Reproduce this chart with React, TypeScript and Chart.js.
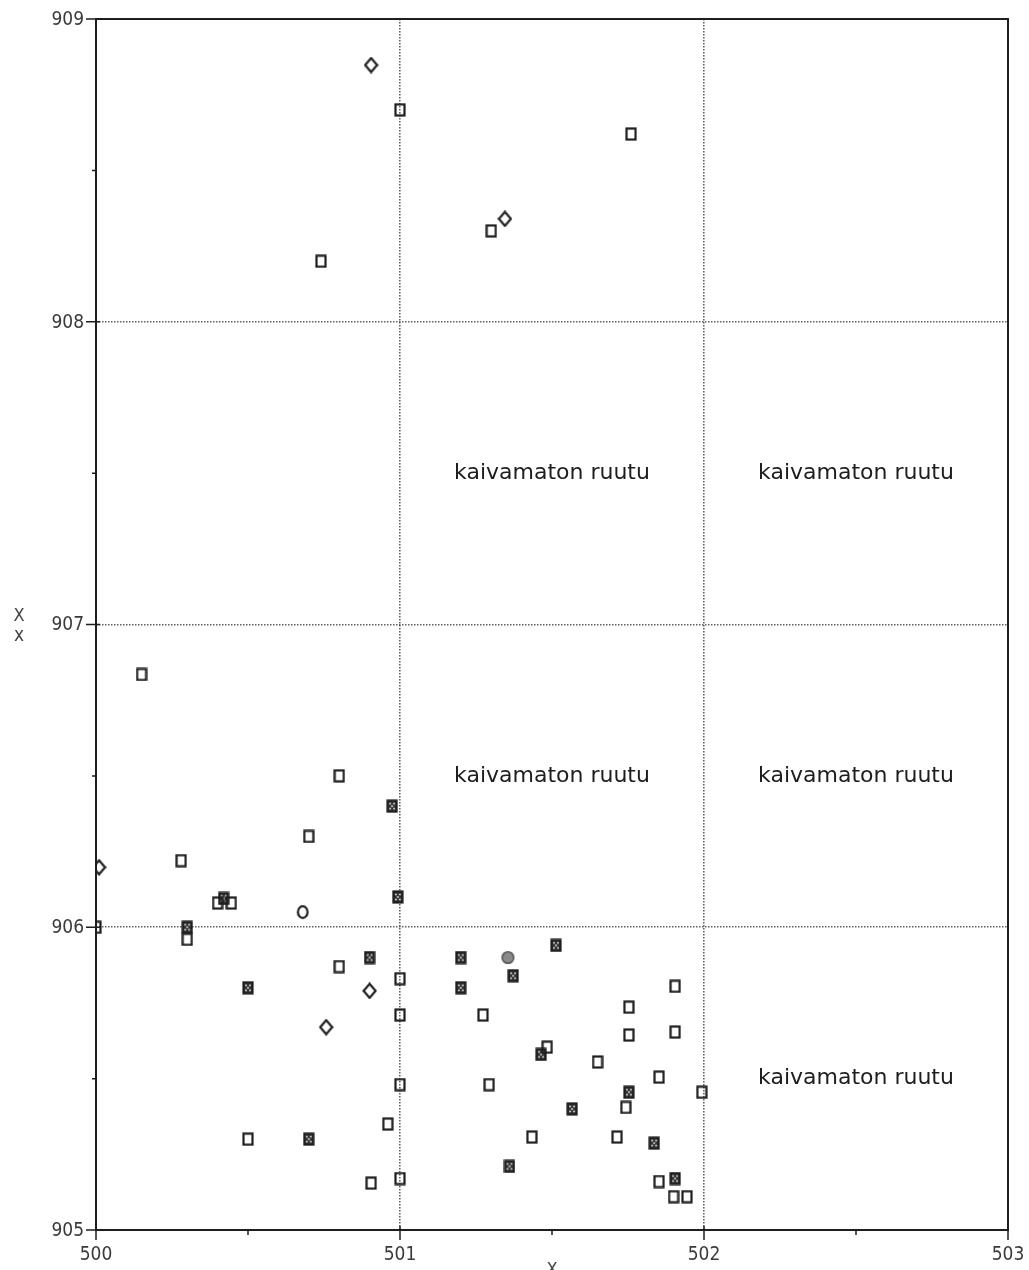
import React, { useEffect, useRef } from "react";
import { Chart, registerables } from "chart.js";

Chart.register(...registerables);

const W = 1029;
const H = 1270;

const xTicks = [500, 501, 502, 503];
const yTicks = [905, 906, 907, 908, 909];
const xGridValues = [501, 502];
const yGridValues = [906, 907, 908];

const openSquareX = [501.0, 501.76, 501.3, 500.74, 500.15, 500.8, 500.7, 500.28, 500.4, 500.445, 500.3, 500.0, 500.8, 501.0, 501.0, 501.905, 501.753, 501.273, 501.753, 501.905, 501.484, 501.65, 501.293, 501.852, 501.993, 501.743, 501.434, 501.714, 501.0, 500.96, 500.5, 500.905, 501.0, 501.852, 501.9, 501.944];
const openSquareY = [908.7, 908.62, 908.3, 908.2, 906.835, 906.5, 906.3, 906.22, 906.08, 906.08, 905.96, 906.0, 905.87, 905.83, 905.71, 905.805, 905.736, 905.71, 905.644, 905.654, 905.604, 905.555, 905.48, 905.505, 905.455, 905.405, 905.307, 905.307, 905.48, 905.35, 905.3, 905.155, 905.17, 905.16, 905.11, 905.11];

const crossedX = [500.42, 500.3, 500.974, 500.993, 500.9, 500.5, 501.2, 501.513, 501.372, 501.2, 501.464, 501.753, 501.566, 501.836, 501.36, 500.7, 501.905];
const crossedY = [906.095, 906.0, 906.4, 906.1, 905.9, 905.8, 905.9, 905.94, 905.84, 905.8, 905.58, 905.455, 905.4, 905.287, 905.21, 905.3, 905.17];

const diamondX = [500.905, 501.345, 500.01, 500.9, 500.757];
const diamondY = [908.848, 908.34, 906.198, 905.79, 905.67];

const ringX = [500.68];
const ringY = [906.05];

const dotX = [501.355];
const dotY = [905.9];

const noteX = [501.5, 502.5, 501.5, 502.5, 502.5];
const noteY = [907.5, 907.5, 906.5, 906.5, 905.5];
const noteText = ["kaivamaton ruutu", "kaivamaton ruutu", "kaivamaton ruutu", "kaivamaton ruutu", "kaivamaton ruutu"];

const yTitle = ["X", "x"];
const xTitle = "X";

const INK = "#1e1e1e";
const FONT = "'DejaVu Sans Condensed', 'DejaVu Sans', sans-serif";
const NOTE_FONT = "'DejaVu Sans', sans-serif";

function pts(xs: number[], ys: number[]) {
  return xs.map((x, i) => ({ x, y: ys[i] }));
}

function makeCanvas(w: number, h: number, draw: (c: CanvasRenderingContext2D) => void) {
  const cv = document.createElement("canvas");
  cv.width = w;
  cv.height = h;
  const c = cv.getContext("2d")!;
  draw(c);
  return cv;
}

export default function App() {
  const ref = useRef<HTMLCanvasElement | null>(null);

  useEffect(() => {
    const openSq = makeCanvas(12, 14, (c) => {
      c.strokeStyle = INK;
      c.lineWidth = 2.2;
      c.strokeRect(1.5, 1.5, 9, 11);
    });
    const crossSq = makeCanvas(12, 14, (c) => {
      c.fillStyle = "#333";
      c.fillRect(1, 1, 10, 12);
      c.strokeStyle = INK;
      c.lineWidth = 2.2;
      c.strokeRect(1.5, 1.5, 9, 11);
      c.fillStyle = "#eeeeee";
      const d = [[4, 4.5], [8, 4.5], [6, 7], [4, 9.5], [8, 9.5]];
      d.forEach(([x, y]) => c.fillRect(x - 0.8, y - 0.8, 1.6, 1.6));
    });
    const diamond = makeCanvas(15, 17, (c) => {
      c.strokeStyle = INK;
      c.lineWidth = 2.2;
      c.beginPath();
      c.moveTo(7.5, 1.5);
      c.lineTo(13.5, 8.5);
      c.lineTo(7.5, 15.5);
      c.lineTo(1.5, 8.5);
      c.closePath();
      c.stroke();
    });
    const ring = makeCanvas(14, 16, (c) => {
      c.strokeStyle = INK;
      c.lineWidth = 2.2;
      c.beginPath();
      c.ellipse(7, 8, 4.8, 5.8, 0, 0, Math.PI * 2);
      c.stroke();
    });
    const dot = makeCanvas(15, 15, (c) => {
      c.fillStyle = "#8a8a8a";
      c.strokeStyle = "#555";
      c.lineWidth = 1.5;
      c.beginPath();
      c.arc(7.5, 7.5, 5.8, 0, Math.PI * 2);
      c.fill();
      c.stroke();
    });

    const decor = {
      id: "decor",
      afterDraw(chart: any) {
        const ctx = chart.ctx as CanvasRenderingContext2D;
        const a = chart.chartArea;
        const xs = chart.scales.x;
        const ys = chart.scales.y;
        ctx.save();
        // frame
        ctx.strokeStyle = INK;
        ctx.lineWidth = 2;
        ctx.strokeRect(a.left, a.top, a.right - a.left, a.bottom - a.top);
        // ticks
        ctx.lineWidth = 1.5;
        ctx.beginPath();
        for (let v = yTicks[0]; v <= yTicks[yTicks.length - 1] + 1e-9; v += 0.5) {
          const py = ys.getPixelForValue(v);
          const major = Math.abs(v - Math.round(v)) < 1e-6;
          ctx.moveTo(a.left - (major ? 10 : 4), py);
          ctx.lineTo(a.left + (major ? 4 : 0), py);
        }
        for (let v = xTicks[0]; v <= xTicks[xTicks.length - 1] + 1e-9; v += 0.5) {
          const px = xs.getPixelForValue(v);
          const major = Math.abs(v - Math.round(v)) < 1e-6;
          ctx.moveTo(px, a.bottom + (major ? 10 : 5));
          ctx.lineTo(px, a.bottom - (major ? 4 : 0));
        }
        ctx.stroke();
        // tick labels
        ctx.fillStyle = "#3a3a3a";
        ctx.font = `19px ${FONT}`;
        ctx.textAlign = "right";
        ctx.textBaseline = "middle";
        yTicks.forEach((v) => ctx.fillText(String(v), a.left - 12, ys.getPixelForValue(v) + 1));
        ctx.textAlign = "center";
        ctx.textBaseline = "top";
        xTicks.forEach((v) => ctx.fillText(String(v), xs.getPixelForValue(v), a.bottom + 16));
        // notes
        ctx.fillStyle = "#1e1e1e";
        ctx.font = `22px ${NOTE_FONT}`;
        ctx.textAlign = "center";
        ctx.textBaseline = "middle";
        noteText.forEach((t, i) => {
          ctx.fillText(t, xs.getPixelForValue(noteX[i]), ys.getPixelForValue(noteY[i]));
        });
        // axis titles
        ctx.fillStyle = "#444";
        ctx.font = `18px ${FONT}`;
        ctx.fillText(yTitle[0], 19, 616);
        ctx.font = `19px ${FONT}`;
        ctx.fillText(yTitle[1], 19, 636);
        ctx.font = `18px ${FONT}`;
        ctx.textBaseline = "top";
        ctx.fillText(xTitle, (a.left + a.right) / 2, 1261);
        ctx.restore();
      },
    };

    const gridColor = (vals: number[]) => (c: any) =>
      c.tick && vals.some((v) => Math.abs(v - c.tick.value) < 1e-6) ? "rgba(70,70,70,0.85)" : "rgba(0,0,0,0)";

    const chart = new Chart(ref.current!, {
      type: "scatter",
      data: {
        datasets: [
          { data: pts(openSquareX, openSquareY), pointStyle: openSq as any, pointRadius: 6 },
          { data: pts(crossedX, crossedY), pointStyle: crossSq as any, pointRadius: 6 },
          { data: pts(diamondX, diamondY), pointStyle: diamond as any, pointRadius: 7 },
          { data: pts(ringX, ringY), pointStyle: ring as any, pointRadius: 7 },
          { data: pts(dotX, dotY), pointStyle: dot as any, pointRadius: 7 },
        ],
      },
      plugins: [decor],
      options: {
        animation: false,
        responsive: false,
        devicePixelRatio: 1,
        events: [],
        layout: { autoPadding: false, padding: { top: 19, right: 21, left: 0, bottom: 0 } },
        plugins: { legend: { display: false }, tooltip: { enabled: false } },
        scales: {
          x: {
            type: "linear",
            min: xTicks[0],
            max: xTicks[xTicks.length - 1],
            ticks: { stepSize: 0.5, display: false },
            grid: { color: gridColor(xGridValues), lineWidth: 1.6, drawTicks: false },
            border: { display: false, dash: [1.5, 1.5] },
            afterFit: (s: any) => { s.height = 40; },
          },
          y: {
            type: "linear",
            min: yTicks[0],
            max: yTicks[yTicks.length - 1],
            ticks: { stepSize: 0.5, display: false },
            grid: { color: gridColor(yGridValues), lineWidth: 1.6, drawTicks: false },
            border: { display: false, dash: [1.5, 1.5] },
            afterFit: (s: any) => { s.width = 96; },
          },
        },
      } as any,
    });
    return () => chart.destroy();
  }, []);

  return (
    <div style={{ position: "absolute", left: 0, top: 0, width: W, height: H, background: "#fff" }}>
      <canvas ref={ref} width={W} height={H} style={{ display: "block" }} />
    </div>
  );
}
